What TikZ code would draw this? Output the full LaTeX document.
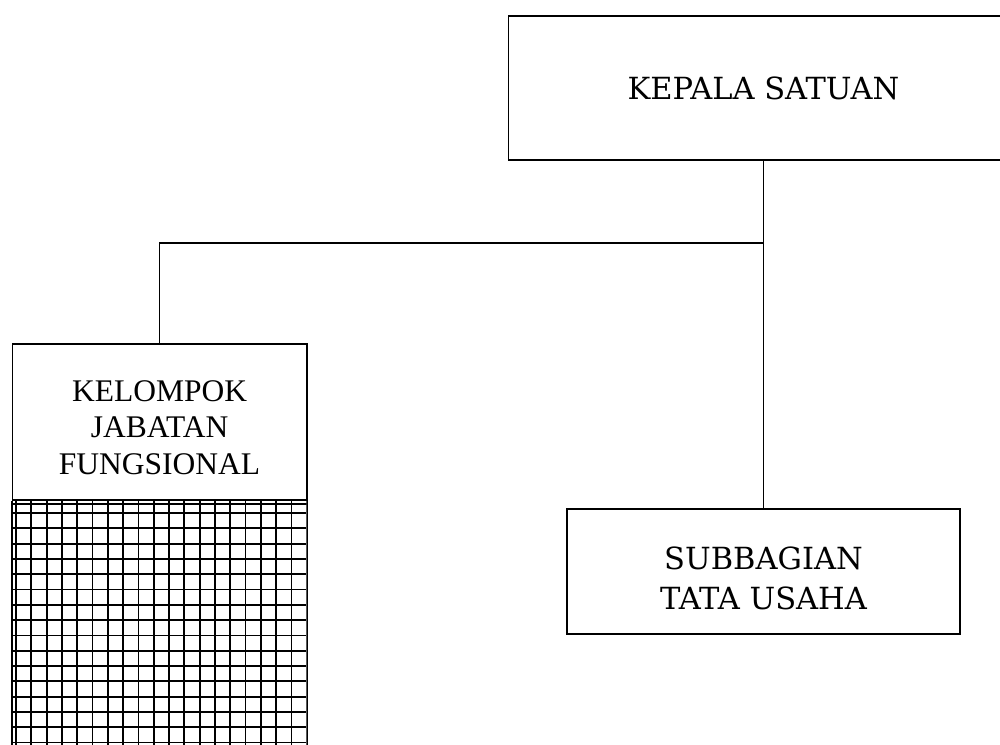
\documentclass[tikz,border=0pt]{standalone}
\usepackage{fontspec}
\setmainfont{Liberation Serif}
\newfontfamily\schoolfont{DejaVu Serif}
\tikzset{
    x={1pt},
    y={-1pt},
    unit box/.style={
        draw=black, rectangle,
        line width={1.6pt},
        align=center,
        inner sep=0pt,
    },
    head unit/.style={
        unit box,
        font={\schoolfont\fontsize{30.5}{40}\selectfont},
    },
    staff unit/.style={
        unit box,
        font={\fontsize{31.5}{36.5}\selectfont},
    },
    unit side/.style={
        draw=black,
        line width={1.8pt},
    },
    hatch line/.style={
        draw=black,
        line width={1.8pt},
    },
    link/.style={
        draw=black,
        line width={1.3pt},
    },
}

\begin{document}
\begin{tikzpicture}
\path[use as bounding box, clip] (0,0) rectangle (1000,744);
% units
\node[head unit, minimum width={510}, minimum height={144}] (kepala) at (763.5,88) {KEPALA SATUAN};
\node[staff unit, minimum width={294.2}, minimum height={156}] (kelompok) at (159.6,422) {\rule{0pt}{32pt}KELOMPOK\\JABATAN\\FUNGSIONAL};
\node[head unit, minimum width={393}, minimum height={125}] (subbagian) at (763.5,571.5) {\rule{0pt}{36pt}SUBBAGIAN\\TATA USAHA};
% hatched part below the functional group
\coordinate (hatch end) at (306.7,760);
\begin{scope}
    \clip (kelompok.south west) rectangle (hatch end);
    \draw[hatch line, step=15.3pt, shift={(16,513)}] (-16,-15.3) grid (292,250);
    \draw[hatch line] (0,504) -- (320,504);
\end{scope}
\draw[unit side] (kelompok.south west) -- (kelompok.south west |- hatch end);
\draw[unit side] (kelompok.south east) -- (kelompok.south east |- hatch end);
% connectors
\coordinate (branch) at (763.5,243);
\draw[link] (kepala.south) -- (subbagian.north);
\draw[link] (kepala.south |- branch) -| (kelompok.north);
\end{tikzpicture}
\end{document}
